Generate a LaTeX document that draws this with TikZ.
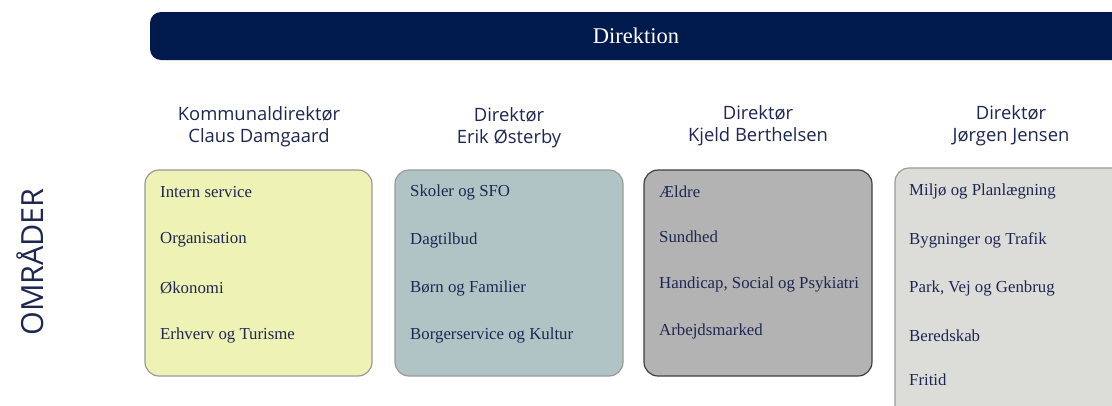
\documentclass[tikz,border=0pt]{standalone}
\usepackage{fontspec}
\setmainfont{Liberation Serif}
\newfontfamily\hdrfont{Open Sans}
\begin{document}
\definecolor{navy}{HTML}{001A4D}
\definecolor{txtnavy}{HTML}{1E2752}
\definecolor{boxA}{HTML}{EEF2B4}
\definecolor{boxB}{HTML}{B0C4C6}
\definecolor{boxC}{HTML}{B3B3B3}
\definecolor{boxD}{HTML}{DCDCD8}
\begin{tikzpicture}[x=1pt,y=-1pt,
  area/.style={draw=#1, line width=1.2pt, rounded corners=14pt},
  item/.style={anchor=west, font=\fontsize{16.8}{18}\selectfont, text=txtnavy, inner sep=0pt},
  hdr/.style={align=center, font=\hdrfont\fontsize{18.4}{22}\selectfont, text=txtnavy, inner sep=0pt}]
\useasboundingbox (0,0) rectangle (1112,405);
\begin{scope}
\clip (0,0) rectangle (1112,405);
\fill[navy, rounded corners=11pt] (150,12) rectangle (1130,60);
\node (dir) at (636,36) {\color{white}\fontsize{22.5}{26}\selectfont Direktion};
\node[rotate=90, font=\hdrfont\fontsize{30.5}{34}\selectfont, text=txtnavy] (omr) at (30,262) {OMRÅDER};

\node[hdr] (h1) at (259,127) {Kommunaldirektør\\Claus Damgaard};
\node[hdr] (h2) at (509,128) {Direktør\\Erik Østerby};
\node[hdr] (h3) at (758,126) {Direktør\\Kjeld Berthelsen};
\node[hdr] (h4) at (1011,126) {Direktør\\Jørgen Jensen};

\filldraw[fill=boxA, area=gray!80] (145,170) rectangle (372,376);
\filldraw[fill=boxB, area=gray!80] (395,170) rectangle (623,376);
\filldraw[fill=boxC, area=black!75] (644,170) rectangle (872,376);
\filldraw[fill=boxD, area=gray!80] (895,168) rectangle (1140,430);

\node[item] (a1) at (160,192) {Intern service};
\node[item] (a2) at (160,240) {Organisation};
\node[item] (a3) at (160,288) {Økonomi};
\node[item] (a4) at (160,335) {Erhverv og Turisme};

\node[item] (b1) at (410,192) {Skoler og SFO};
\node[item] (b2) at (410,240) {Dagtilbud};
\node[item] (b3) at (410,288) {Børn og Familier};
\node[item] (b4) at (410,335) {Borgerservice og Kultur};

\node[item] (c1) at (659,192) {Ældre};
\node[item] (c2) at (659,237) {Sundhed};
\node[item] (c3) at (659,284) {Handicap, Social og Psykiatri};
\node[item] (c4) at (659,331) {Arbejdsmarked};

\node[item] (d1) at (909,191) {Miljø og Planlægning};
\node[item] (d2) at (909,240) {Bygninger og Trafik};
\node[item] (d3) at (909,288) {Park, Vej og Genbrug};
\node[item] (d4) at (909,336) {Beredskab};
\node[item] (d5) at (909,380) {Fritid};
\end{scope}
\end{tikzpicture}
\end{document}
